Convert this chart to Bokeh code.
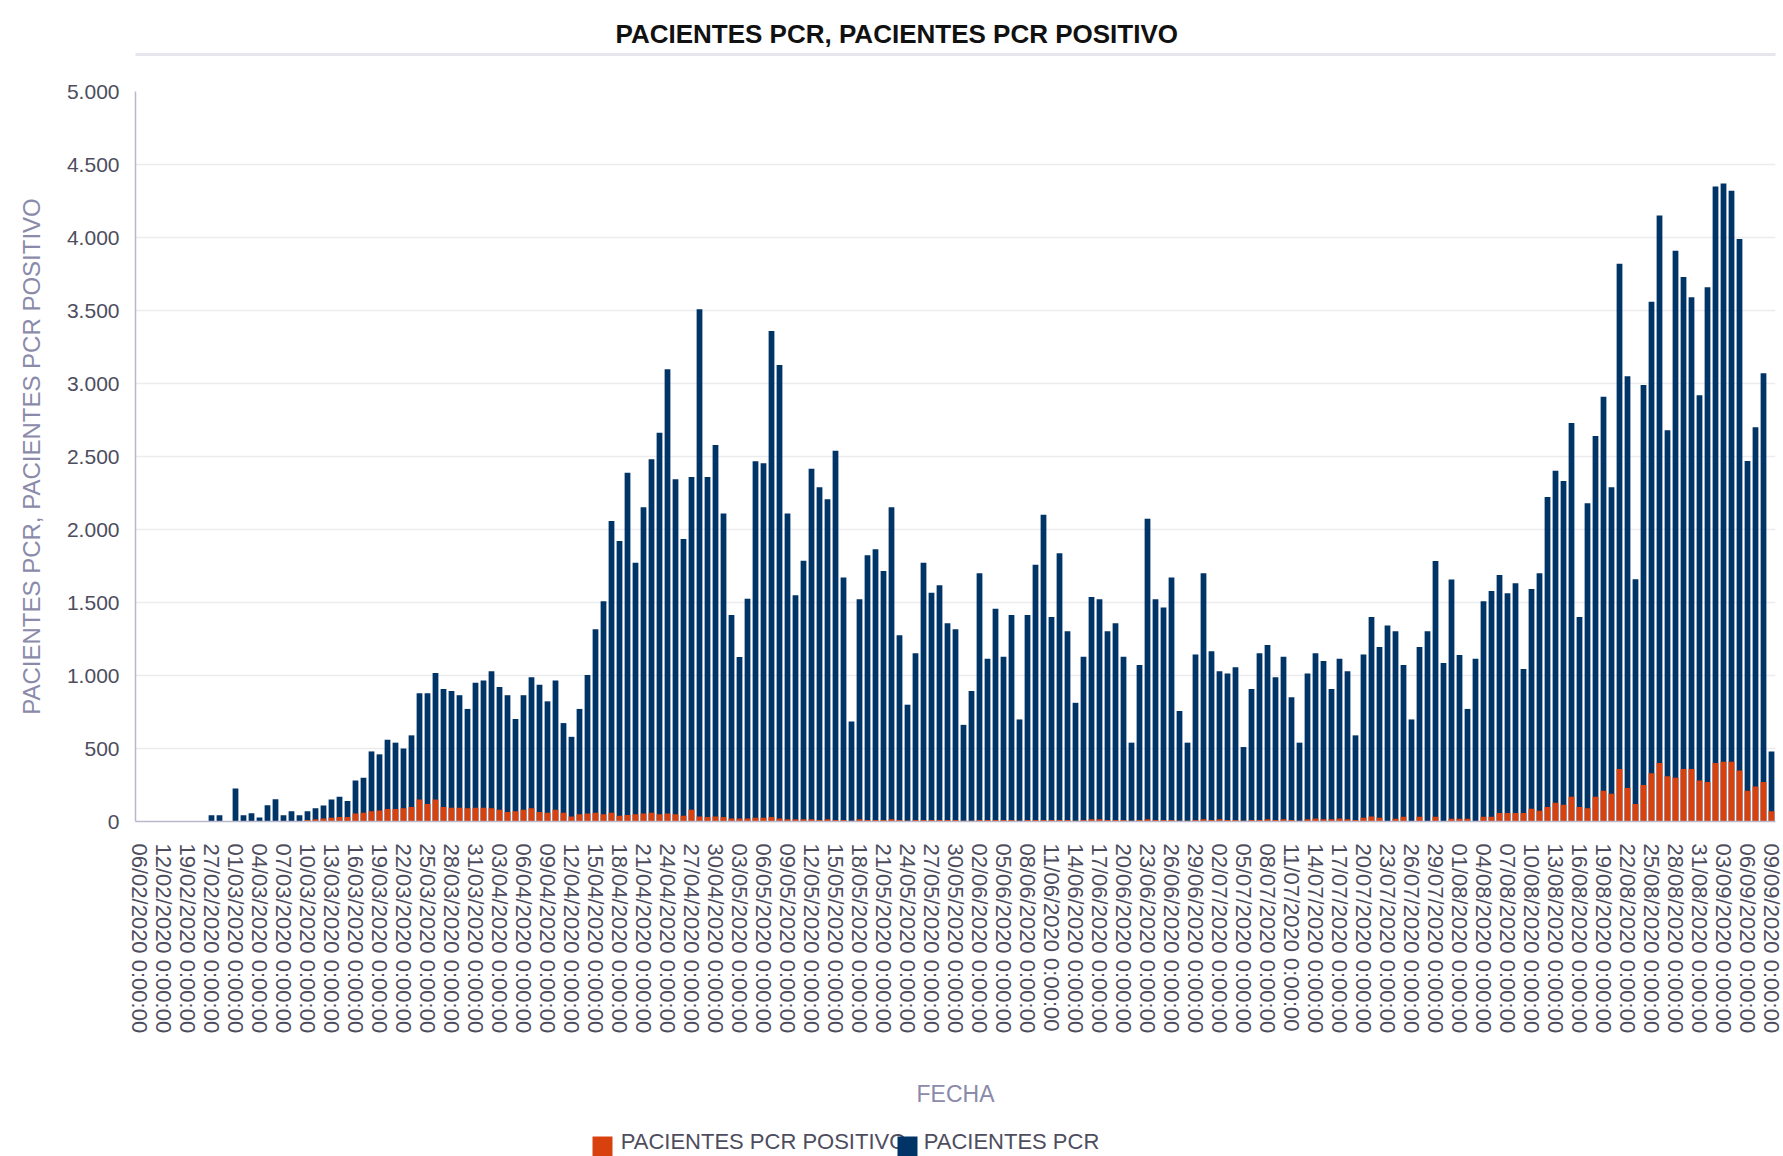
import math
import pandas as pd
from bokeh.plotting import figure
from bokeh.models import (Range1d, ColumnDataSource, FixedTicker, LinearAxis, Title)
from bokeh.embed import file_html
from bokeh.resources import INLINE

# ---- categories (dates) ----
fechas_inicio = ["06/02/2020", "08/02/2020", "10/02/2020", "12/02/2020", "14/02/2020",
                 "17/02/2020", "19/02/2020", "22/02/2020", "25/02/2020", "27/02/2020",
                 "28/02/2020", "29/02/2020"]
fechas_diarias = [d.strftime("%d/%m/%Y") for d in pd.date_range("2020-03-01", "2020-09-09")]
fechas = [f + " 0:00:00" for f in fechas_inicio + fechas_diarias]
posiciones = list(range(len(fechas)))

# ---- series values ----
pacientes_pcr = [
    0, 0, 0, 0, 0, 0, 0, 0, 0, 42, 42, 0,
    226, 42, 56, 28, 112, 153, 42, 70, 42,
    70, 90, 110, 150, 170, 140, 280, 300, 480, 460, 560, 540, 500, 590,
    879, 879, 1017, 908, 894, 865, 771,
    951, 966, 1029, 922, 865, 702, 865, 988, 937, 823, 966, 674, 580, 771, 1003, 1317,
    1509, 2059, 1921, 2388, 1773, 2153, 2482,
    2662, 3097, 2344, 1935, 2359, 3509, 2359, 2579, 2110, 1415, 1126, 1526, 2468, 2453,
    3360, 3126, 2110, 1549, 1786, 2416, 2290, 2207, 2539,
    1672, 685, 1523, 1824, 1864, 1715, 2153, 1275, 800, 1152, 1773, 1566, 1618, 1358,
    1317, 662, 894, 1701, 1115, 1458, 1129, 1415, 699,
    1415, 1758, 2101, 1401, 1838, 1303, 813, 1129, 1538, 1523, 1303, 1358, 1129, 540,
    1072, 2073, 1523, 1466, 1672, 757, 540, 1143,
    1701, 1166, 1029, 1014, 1057, 510, 908, 1152, 1209, 988, 1129, 851, 540, 1014,
    1152, 1100, 908, 1115, 1029, 590, 1143, 1401, 1195,
    1343, 1303, 1072, 699, 1195, 1303, 1784, 1086, 1658, 1140, 771, 1115, 1509, 1578,
    1689, 1563, 1632, 1045, 1592, 1701, 2222, 2402, 2333,
    2730, 1400, 2180, 2640, 2910, 2290, 3820, 3050, 1660, 2990, 3560, 4150, 2680, 3910,
    3730, 3590, 2920, 3660, 4350, 4370, 4320, 3990, 2470, 2700, 3070, 480,
]
pacientes_pcr_positivo = [
    0, 0, 0, 0, 0, 0, 0, 0, 0, 0, 0, 0,
    0, 0, 0, 0, 0, 0, 0, 0, 0,
    10, 15, 20, 25, 30, 30, 55, 60, 70, 75, 85, 85, 90, 100,
    150, 120, 150, 100, 95, 95, 90,
    95, 95, 90, 80, 65, 70, 80, 90, 65, 60, 80, 60, 35, 50, 55, 60,
    50, 60, 40, 45, 50, 55, 60,
    50, 55, 50, 40, 80, 35, 30, 35, 30, 20, 20, 20, 25, 25,
    30, 20, 15, 15, 15, 15, 10, 15, 10,
    10, 5, 15, 10, 10, 10, 15, 10, 5, 10, 10, 10, 10, 10,
    10, 5, 5, 10, 10, 10, 10, 10, 5,
    10, 10, 10, 10, 10, 10, 5, 10, 15, 15, 10, 10, 10, 5,
    10, 15, 10, 10, 10, 5, 5, 10,
    15, 10, 15, 10, 10, 5, 10, 10, 15, 10, 15, 10, 5, 15,
    20, 15, 15, 20, 15, 10, 25, 35, 25,
    0, 18, 32, 0, 32, 0, 32, 0, 18, 18, 18, 0, 32, 32,
    59, 59, 59, 59, 87, 73, 100, 128, 114,
    169, 100, 90, 170, 210, 190, 360, 230, 120, 250, 330, 400, 310, 300,
    360, 360, 280, 270, 400, 410, 410, 350, 210, 240, 270, 70,
]

y_ticks = [0, 500, 1000, 1500, 2000, 2500, 3000, 3500, 4000, 4500, 5000]
y_tick_labels = ["0", "500", "1.000", "1.500", "2.000", "2.500", "3.000", "3.500",
                 "4.000", "4.500", "5.000"]
x_ticks = posiciones[::3]
series_names = ["PACIENTES PCR POSITIVO", "PACIENTES PCR"]

NAVY = "#003366"
ORANGE = "#d8400e"
TICK_COLOR = "#4d4d5e"
LABEL_COLOR = "#8a8aaa"
AXIS_COLOR = "#b8b8cc"
FONT = "Liberation Sans"

src = ColumnDataSource(dict(pos=posiciones, fecha=fechas, pcr=pacientes_pcr,
                            positivo=pacientes_pcr_positivo))

p = figure(width=1783, height=1156,
           x_range=Range1d(-0.5, len(fechas) - 0.5), y_range=Range1d(0, 5000),
           output_backend="svg", toolbar_location=None,
           min_border_left=135, min_border_right=8, min_border_top=91,
           min_border_bottom=334)

r_pcr = p.vbar(x="pos", top="pcr", width=0.72, source=src,
               fill_color=NAVY, line_color=None)
r_pos = p.vbar(x="pos", top="positivo", width=0.72, source=src,
               fill_color=ORANGE, line_color=None)

# main (bottom) x axis: one label every third date
xax = p.below[0]
xax.ticker = FixedTicker(ticks=x_ticks)
xax.major_label_overrides = {i: fechas[i] for i in x_ticks}
xax.major_label_orientation = -math.pi / 2
xax.major_label_text_font = FONT
xax.major_label_text_font_size = "22px"
xax.major_label_text_color = TICK_COLOR
xax.major_label_standoff = 16
xax.major_tick_line_color = None
xax.minor_tick_line_color = None
xax.axis_line_color = AXIS_COLOR
xax.axis_line_width = 1.5
xax.axis_label = "FECHA"
xax.axis_label_text_font = FONT
xax.axis_label_text_font_size = "23px"
xax.axis_label_text_font_style = "normal"
xax.axis_label_text_color = LABEL_COLOR
xax.axis_label_standoff = 45

# ---- key under the chart, built from side-panel axes (a pixel-like range) ----
p.extra_x_ranges = {"regla": Range1d(0, 1), "clave": Range1d(135, 1775)}
clave_textos = LinearAxis(x_range_name="clave",
                          ticker=FixedTicker(ticks=[763, 1011]),
                          major_label_overrides={763: series_names[0], 1011: series_names[1]},
                          axis_line_color=None, major_tick_line_color=None,
                          minor_tick_line_color=None, major_tick_out=0, major_tick_in=0,
                          major_label_standoff=18, major_label_text_font=FONT,
                          major_label_text_font_size="22px",
                          major_label_text_color=TICK_COLOR)
p.add_layout(clave_textos, "below")
for centro, color in [(602, ORANGE), (907, NAVY)]:
    muestra = LinearAxis(x_range_name="clave",
                         ticker=FixedTicker(ticks=[], minor_ticks=[centro]),
                         axis_line_color=None, major_tick_line_color=None,
                         major_tick_out=0, major_tick_in=0, major_label_standoff=0,
                         minor_tick_line_color=color, minor_tick_line_width=20,
                         minor_tick_in=20, minor_tick_out=0)
    p.add_layout(muestra, "below")

# spacer between frame and the separator rule
p.add_layout(Title(text=" ", text_font_size="22px"), "above")
# separator rule under the title (an empty axis whose line is the rule)
regla = LinearAxis(x_range_name="regla", ticker=FixedTicker(ticks=[]),
                   major_tick_out=0, major_tick_in=0, minor_tick_out=0, minor_tick_in=0,
                   major_label_standoff=0, axis_line_color="#e6e6ec", axis_line_width=3)
p.add_layout(regla, "above")

# title
p.title.text = "PACIENTES PCR, PACIENTES PCR POSITIVO"
p.title.text_font = FONT
p.title.text_font_size = "26px"
p.title.text_font_style = "bold"
p.title.text_color = "#111111"
p.title.align = "left"
p.title.vertical_align = "middle"
p.title.offset = 480

# y axis
yax = p.left[0]
yax.ticker = FixedTicker(ticks=y_ticks)
p.ygrid.ticker = FixedTicker(ticks=y_ticks)
yax.major_label_overrides = dict(zip(y_ticks, y_tick_labels))
yax.major_label_text_font = FONT
yax.major_label_text_font_size = "21px"
yax.major_label_text_color = TICK_COLOR
yax.major_label_standoff = 10
yax.major_tick_line_color = None
yax.minor_tick_line_color = None
yax.axis_line_color = AXIS_COLOR
yax.axis_line_width = 1.5
yax.axis_label = "PACIENTES PCR, PACIENTES PCR POSITIVO"
yax.axis_label_text_font = FONT
yax.axis_label_text_font_size = "24px"
yax.axis_label_text_font_style = "normal"
yax.axis_label_text_color = LABEL_COLOR
yax.axis_label_standoff = 19

p.xgrid.grid_line_color = None
p.ygrid.grid_line_color = "#ebebf0"
p.ygrid.grid_line_width = 1.5
p.outline_line_color = None
p.background_fill_color = "white"

open("out.html", "w").write(file_html(p, INLINE))
